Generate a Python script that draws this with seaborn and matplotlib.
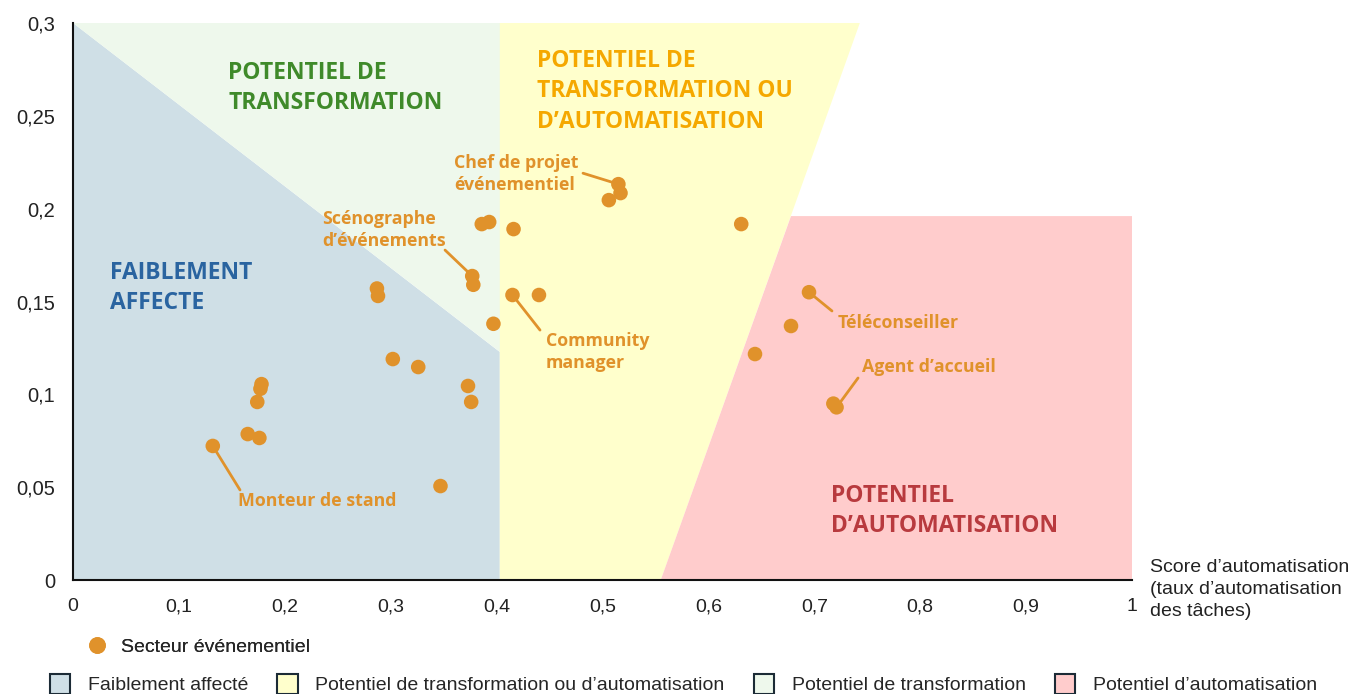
import numpy as np
import pandas as pd
import matplotlib.pyplot as plt
import seaborn as sns
from matplotlib.patches import Polygon, Patch
from matplotlib.lines import Line2D
from matplotlib.ticker import FuncFormatter

# scores
score_auto = [0.132, 0.165, 0.176, 0.174, 0.177, 0.178, 0.287, 0.288, 0.302, 0.326,
              0.347, 0.373, 0.376, 0.377, 0.378, 0.386, 0.393, 0.416, 0.397, 0.415,
              0.440, 0.506, 0.515, 0.517, 0.631, 0.644, 0.678, 0.695, 0.718, 0.721]
score_transfo = [0.0722, 0.0786, 0.0765, 0.0959, 0.103, 0.1055, 0.157, 0.153, 0.119, 0.1147,
                 0.0506, 0.1045, 0.0959, 0.1637, 0.159, 0.1917, 0.1928, 0.189, 0.138, 0.1535,
                 0.1535, 0.2046, 0.2132, 0.2084, 0.1917, 0.1217, 0.1368, 0.155, 0.095, 0.0930]

labels = {
    "Monteur de stand": 0,
    "Scénographe\nd’événements": 13,
    "Community\nmanager": 19,
    "Chef de projet\névénementiel": 22,
    "Téléconseiller": 27,
    "Agent d’accueil": 29,
}

zones = ["Faiblement affecté", "Potentiel de transformation ou d’automatisation",
         "Potentiel de transformation", "Potentiel d’automatisation"]
zone_colors = ["#CFDFE6", "#FFFFCC", "#EEF8EC", "#FFCCCC"]

df = pd.DataFrame({"x": score_auto, "y": score_transfo})

orange = "#E0922B"

sns.set_theme(style="white")
plt.rcParams["font.family"] = ["Liberation Sans", "DejaVu Sans"]

fig = plt.figure(figsize=(13.54, 6.94), dpi=100)
ax = fig.add_axes([73 / 1354, 1 - 580 / 694, 1059 / 1354, 557 / 694])

# background zones
ax.add_patch(Polygon([(0, 0), (0, 0.3), (0.403, 0.1228), (0.403, 0)], color=zone_colors[0], lw=0, zorder=0))
ax.add_patch(Polygon([(0, 0.3), (0.403, 0.3), (0.403, 0.1228)], color=zone_colors[2], lw=0, zorder=0))
ax.add_patch(Polygon([(0.403, 0), (0.403, 0.3), (0.743, 0.3), (0.555, 0)], color=zone_colors[1], lw=0, zorder=0))
ax.add_patch(Polygon([(0.555, 0), (0.678, 0.196), (1.0, 0.196), (1.0, 0)], color=zone_colors[3], lw=0, zorder=0))

sns.scatterplot(data=df, x="x", y="y", color=orange, s=110, edgecolor="none", ax=ax, zorder=3)

ax.set_xlim(0, 1)
ax.set_ylim(0, 0.3)
ax.set_xticks(np.arange(0, 1.01, 0.1))
ax.set_yticks(np.arange(0, 0.301, 0.05))
fmt = FuncFormatter(lambda v, p: ("%g" % round(v, 2)).replace(".", ","))
ax.xaxis.set_major_formatter(fmt)
ax.yaxis.set_major_formatter(fmt)
ax.tick_params(axis="x", length=0, pad=13, labelsize=14, colors="#222222")
ax.tick_params(axis="y", length=0, pad=13, labelsize=14.5, colors="#222222")
ax.set_xlabel("")
ax.set_ylabel("")
for s in ["top", "right"]:
    ax.spines[s].set_visible(False)
for s in ["left", "bottom"]:
    ax.spines[s].set_color("#111111")
    ax.spines[s].set_linewidth(1.5)

ax.text(1.017, 0.038, "Score d’automatisation\n(taux d’automatisation\ndes tâches)",
        transform=ax.transAxes, ha="left", va="top", fontsize=14, color="#222222",
        linespacing=1.38)

# zone titles
title_font = ["Open Sans", "DejaVu Sans"]
tkw = dict(fontsize=16.5, fontweight="bold", family=title_font, va="top", linespacing=1.34)
ax.text(0.1464, 0.2795, "POTENTIEL DE\nTRANSFORMATION", color="#3F8A2A", **tkw)
ax.text(0.0349, 0.1718, "FAIBLEMENT\nAFFECTE", color="#2A64A0", **tkw)
ax.text(0.438, 0.2858, "POTENTIEL DE\nTRANSFORMATION OU\nD’AUTOMATISATION", color="#F5A800", **tkw)
ax.text(0.7158, 0.0517, "POTENTIEL\nD’AUTOMATISATION", color="#B83A3E", **tkw)

# point labels: (text x, text y, va, line start)
label_pos = {
    "Monteur de stand": (0.1558, 0.0425, "center", (0.1577, 0.0485)),
    "Scénographe\nd’événements": (0.235, 0.1995, "top", (0.3513, 0.1777)),
    "Community\nmanager": (0.4466, 0.1335, "top", (0.441, 0.1346)),
    "Chef de projet\névénementiel": (0.360, 0.2295, "top", (0.4816, 0.2191)),
    "Téléconseiller": (0.7224, 0.1385, "center", (0.7167, 0.1449)),
    "Agent d’accueil": (0.745, 0.1148, "center", (0.7413, 0.1088)),
}
for name, idx in labels.items():
    tx, ty, va, (lx, ly) = label_pos[name]
    ax.text(tx, ty, name, color=orange, fontsize=12.8, fontweight="bold",
            family=title_font, va=va, ha="left", linespacing=1.28, zorder=4)
    ax.plot([lx, score_auto[idx]], [ly, score_transfo[idx]], color=orange, lw=2, zorder=2)

# legends
h1 = [Line2D([0], [0], marker="o", color="none", markerfacecolor=orange,
             markeredgecolor="none", markersize=12, label="Secteur événementiel")]
leg1 = fig.legend(handles=h1, loc="center left", bbox_to_anchor=(0.0445, 1 - 647 / 694),
                  frameon=False, fontsize=14, handletextpad=0.2)
h2 = [Patch(facecolor=c, edgecolor="#1C2B36", linewidth=1.5, label=z)
      for z, c in zip(zones, zone_colors)]
fig.legend(handles=h2, loc="center left", bbox_to_anchor=(0.024, 1 - 684 / 694), ncol=4,
           frameon=False, fontsize=14, handlelength=1.05, handleheight=1.25,
           handletextpad=0.9, columnspacing=1.5)
fig.add_artist(leg1)

fig.savefig("out.png", dpi=100)
